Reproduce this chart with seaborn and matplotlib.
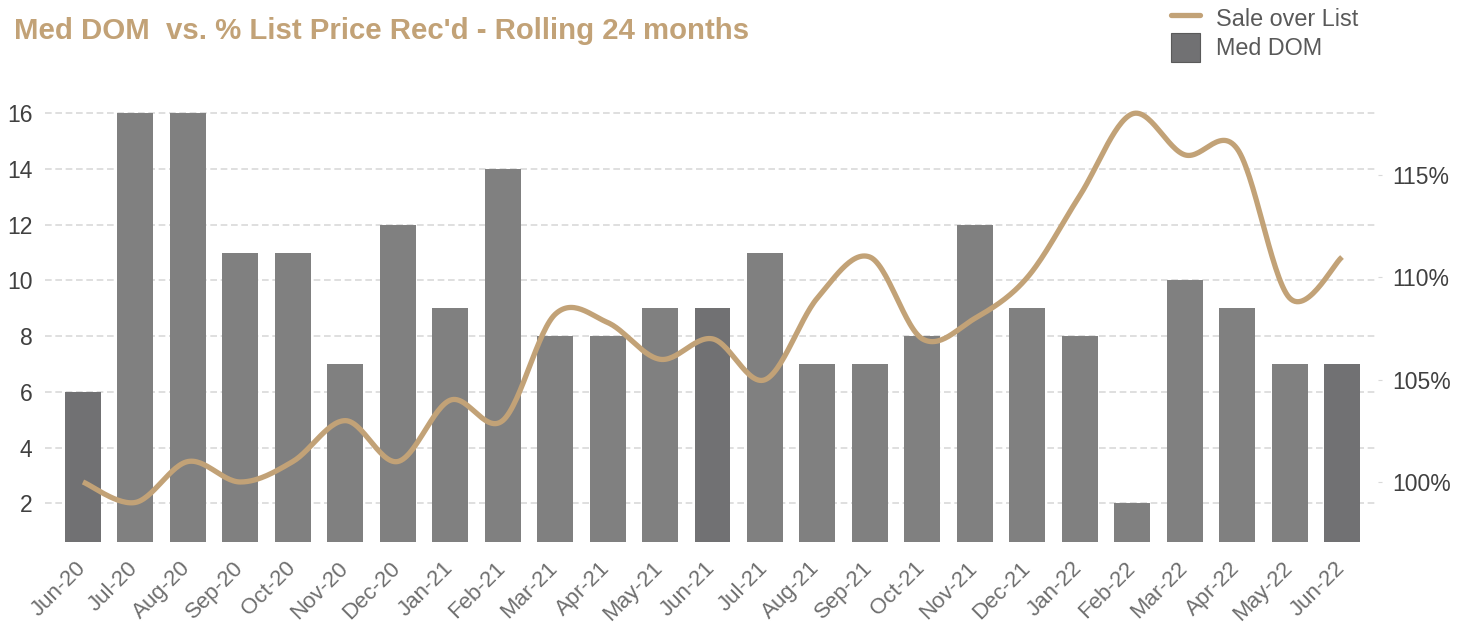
import numpy as np
import pandas as pd
import matplotlib
matplotlib.use("Agg")
import matplotlib.pyplot as plt
from matplotlib.lines import Line2D
from matplotlib.patches import Patch
from matplotlib.transforms import ScaledTranslation
import seaborn as sns

# ---- data ----
months = ["Jun-20", "Jul-20", "Aug-20", "Sep-20", "Oct-20", "Nov-20", "Dec-20",
          "Jan-21", "Feb-21", "Mar-21", "Apr-21", "May-21", "Jun-21", "Jul-21",
          "Aug-21", "Sep-21", "Oct-21", "Nov-21", "Dec-21", "Jan-22", "Feb-22",
          "Mar-22", "Apr-22", "May-22", "Jun-22"]
med_dom = [6, 16, 16, 11, 11, 7, 12, 9, 14, 8, 8, 9, 9, 11, 7, 7, 8, 12, 9, 8, 2, 10, 9, 7, 7]
sale_over_list = [100.0, 99.0, 101.0, 100.0, 101.0, 103.0, 101.0, 104.0, 103.0, 108.2,
                  107.8, 106.0, 107.0, 105.0, 109.0, 111.0, 107.0, 108.0, 110.0, 114.0,
                  118.0, 116.0, 116.3, 109.0, 111.0]
right_ticks = [100, 105, 110, 115]
left_ticks = [2, 4, 6, 8, 10, 12, 14, 16]

title = "Med DOM  vs. % List Price Rec'd - Rolling 24 months"
gold = "#c2a277"
bar_main = "#808080"
bar_dark = "#717173"

sns.set_style("white")
plt.rcParams["font.family"] = ["Liberation Sans", "DejaVu Sans"]

W, H = 1468, 623
fig = plt.figure(figsize=(W / 100, H / 100), dpi=100)
ax_l, ax_r, ax_b, ax_t = 45, 1378, 541.7, 100
ax = fig.add_axes([ax_l / W, (H - ax_b) / H, (ax_r - ax_l) / W, (ax_b - ax_t) / H])

df = pd.DataFrame({"month": months, "dom": med_dom})
colors = {m: (bar_dark if m.startswith("Jun") else bar_main) for m in months}
sns.barplot(data=df, x="month", y="dom", hue="month", palette=colors, legend=False,
            width=0.686, ax=ax, saturation=1, edgecolor="none")

ax.set_xlim(-0.724, 24.686)
ax.set_ylim(0.622, 16.477)
ax.set_yticks(left_ticks)
ax.set_axisbelow(True)
ax.yaxis.grid(True, color="#d9d9d9", linestyle=(0, (4, 2.2)), linewidth=1.2)
ax.xaxis.grid(False)
for s in ax.spines.values():
    s.set_visible(False)
ax.set_xlabel("")
ax.set_ylabel("")
ax.tick_params(axis="y", length=0, pad=9, labelsize=16.5, labelcolor="#404040")
ax.tick_params(axis="x", length=0, pad=11.5, labelsize=16, labelcolor="#6e6e6e")
shift = ScaledTranslation(-8 / 100, 0, fig.dpi_scale_trans)
for lab in ax.get_xticklabels():
    lab.set_rotation(45)
    lab.set_ha("right")
    lab.set_va("top")
    lab.set_rotation_mode("anchor")
    lab.set_transform(lab.get_transform() + shift)

# smoothed line (Catmull-Rom through the data points)
def catmull_rom(x, y, n=30):
    pts = np.column_stack([x, y]).astype(float)
    P = np.vstack([pts[0], pts, pts[-1]])
    out = []
    t = np.linspace(0, 1, n, endpoint=False)[:, None]
    for i in range(1, len(P) - 2):
        p0, p1, p2, p3 = P[i - 1], P[i], P[i + 1], P[i + 2]
        seg = 0.5 * ((2 * p1) + (-p0 + p2) * t + (2 * p0 - 5 * p1 + 4 * p2 - p3) * t ** 2
                     + (-p0 + 3 * p1 - 3 * p2 + p3) * t ** 3)
        out.append(seg)
    out.append(pts[-1][None])
    return np.vstack(out)

ax2 = ax.twinx()
curve = catmull_rom(np.arange(len(months)), sale_over_list)
sns.lineplot(x=curve[:, 0], y=curve[:, 1], ax=ax2, color=gold, linewidth=3.8,
             sort=False, estimator=None, solid_capstyle="butt")
ax2.set_ylim(97.08, 118.68)
ax2.set_xlim(-0.724, 24.686)
ax2.set_yticks(right_ticks)
ax2.set_yticklabels([f"{v}%" for v in right_ticks])
ax2.tick_params(axis="y", length=3, width=0.8, color="#d9d9d9", pad=7,
                labelsize=16.5, labelcolor="#404040")
for s in ax2.spines.values():
    s.set_visible(False)
ax2.grid(False)
ax2.set_ylabel("")

fig.text(14 / W, 1 - 39 / H, title, fontsize=21.2, fontweight="bold", color=gold,
         ha="left", va="baseline")

handles = [Line2D([], [], color=gold, linewidth=3.8),
           Patch(facecolor=bar_dark, edgecolor="#5a5a5a", linewidth=0.8)]
fig.legend(handles, ["Sale over List", "Med DOM"], loc="upper left",
           bbox_to_anchor=(1171 / W, 1 - 4 / H), frameon=False, fontsize=16.8,
           handlelength=1.245, handleheight=1.54, handletextpad=0.7, labelspacing=0.0,
           borderpad=0, borderaxespad=0, labelcolor="#595959")

fig.savefig("out.png", dpi=100)
